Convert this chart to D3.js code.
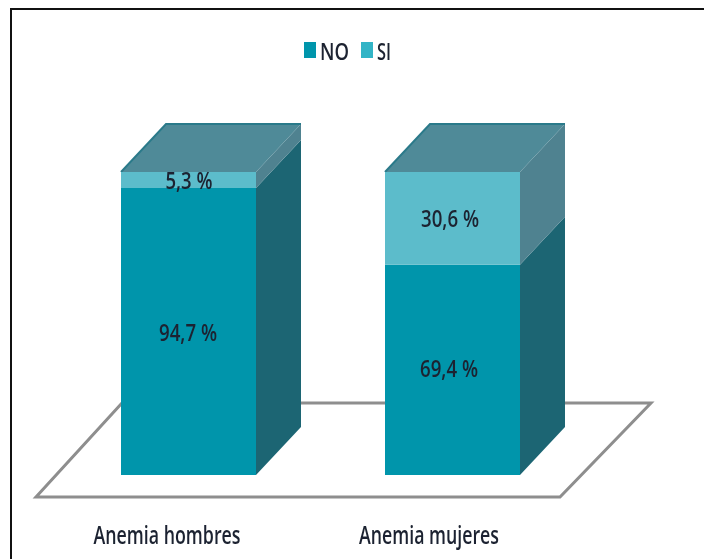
<!DOCTYPE html>
<html><head><meta charset="utf-8">
<style>html,body{margin:0;padding:0;background:#fff}svg{display:block}text{font-family:"Open Sans",sans-serif;fill:#1c2430;font-weight:600}</style>
<script src="https://cdn.jsdelivr.net/npm/d3@7/dist/d3.min.js"></script>
</head><body><svg id="c" width="704" height="559"></svg>
<script>
const categories=["Anemia hombres","Anemia mujeres"];
const seriesNames=["NO","SI"];
const noValues=[94.7,69.4];
const siValues=[5.3,30.6];
const labelNo=["94,7 %","69,4 %"];
const labelSi=["5,3 %","30,6 %"];
const colors={NO:{front:"#0095ab",side:"#1b6573"},SI:{front:"#5cbccb",side:"#4f8290",top:"#4f8a98",edge:"#2c7a8a"}};
const dx=45,dy=-48;
const svg=d3.select("#c");
const defs=svg.append("defs");
defs.append("filter").attr("id","soft").append("feGaussianBlur").attr("stdDeviation",0.6);
defs.append("filter").attr("id","softText").append("feGaussianBlur").attr("stdDeviation",0.35);
const x=d3.scaleBand().domain(categories).range([121,520]).paddingInner(129/264).paddingOuter(0);
const y=d3.scaleLinear().domain([0,100]).range([475,172]);
svg.append("path").attr("d","M11,559V9H704").attr("fill","none").attr("stroke","#111").attr("stroke-width",2);
const g=svg.append("g").attr("filter","url(#soft)");
g.append("path").attr("d",d3.line()([[36,497],[560,497],[651,403],[122,403]])+"Z").attr("fill","#fff").attr("stroke","#8e8e8e").attr("stroke-width",3).attr("stroke-linejoin","miter");
const poly=(pts,fill)=>g.append("path").attr("d",d3.line()(pts)+"Z").attr("fill",fill);
const t=svg.append("g").attr("filter","url(#softText)");
categories.forEach((c,i)=>{
  const x0=x(c),x1=x0+x.bandwidth(),y0=y(0),ym=y(noValues[i]),yt=y(noValues[i]+siValues[i]);
  poly([[x1,y0],[x1+dx,y0+dy],[x1+dx,ym+dy],[x1,ym]],colors.NO.side);
  poly([[x1,ym],[x1+dx,ym+dy],[x1+dx,yt+dy],[x1,yt]],colors.SI.side);
  poly([[x0,yt],[x1,yt],[x1+dx,yt+dy],[x0+dx,yt+dy]],colors.SI.top);
  g.append("path").attr("d",d3.line()([[x0,yt],[x0+dx,yt+dy],[x1+dx,yt+dy]])).attr("fill","none").attr("stroke",colors.SI.edge).attr("stroke-width",2);
  poly([[x0,y0],[x1,y0],[x1,ym],[x0,ym]],colors.NO.front);
  poly([[x0,ym],[x1,ym],[x1,yt],[x0,yt]],colors.SI.front);
  const lab=(s,xx,yy,w)=>t.append("text").attr("x",xx).attr("y",yy).attr("text-anchor","middle").attr("dominant-baseline","central").attr("font-size",23).attr("textLength",w).attr("lengthAdjust","spacingAndGlyphs").text(s);
  lab(labelNo[i],i==0?188:449,i==0?332:368,58);
  lab(labelSi[i],i==0?189:450,i==0?180:218,i==0?47:58);
  t.append("text").attr("x",i==0?167:429).attr("y",534).attr("text-anchor","middle").attr("dominant-baseline","central").attr("font-size",25).attr("textLength",i==0?147:140).attr("lengthAdjust","spacingAndGlyphs").text(c);
});
const lg=[{sx:304,tx:320,w:29,c:"#0095ab"},{sx:361,tx:377,w:14,c:"#33b4c6"}];
lg.forEach((l,i)=>{
  t.append("rect").attr("x",l.sx).attr("y",42).attr("width",12).attr("height",16).attr("fill",l.c);
  t.append("text").attr("x",l.tx).attr("y",50).attr("dominant-baseline","central").attr("font-size",24).attr("textLength",l.w).attr("lengthAdjust","spacingAndGlyphs").text(seriesNames[i]);
});
</script></body></html>
